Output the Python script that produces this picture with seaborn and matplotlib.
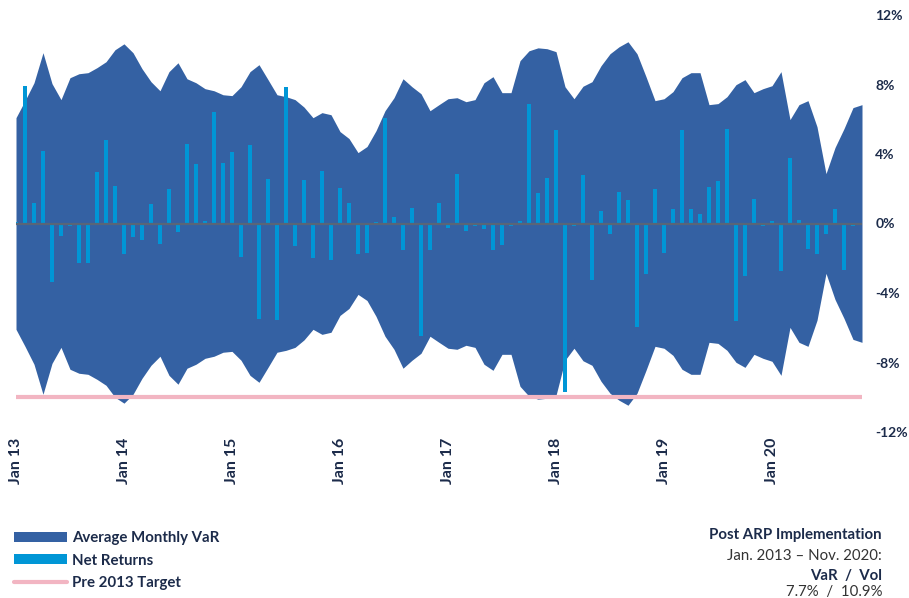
import numpy as np
import pandas as pd
import seaborn as sns
import matplotlib
matplotlib.use("Agg")
import matplotlib.pyplot as plt
from matplotlib.patches import Patch
from matplotlib.lines import Line2D

# ---------------- data ----------------
months = list(range(95))  # Jan 2013 .. Nov 2020
avg_var = [6.09, 7.07, 8.1, 9.83, 8.05, 7.13, 8.39, 8.62, 8.68, 8.97,
           9.31, 10.0, 10.34, 9.83, 8.91, 8.16, 7.64, 8.74, 9.25, 8.33,
           8.1, 7.76, 7.64, 7.41, 7.36, 7.87, 8.74, 9.14, 8.28, 7.41,
           7.3, 7.13, 6.7, 6.09, 6.38, 6.26, 5.29, 4.89, 4.08, 4.43,
           5.34, 6.49, 7.24, 8.33, 7.87, 7.47, 6.49, 6.84, 7.18, 7.24,
           7.01, 7.13, 8.1, 8.45, 7.53, 7.53, 9.37, 9.94, 10.11, 10.06,
           9.89, 7.87, 7.18, 7.9, 8.16, 9.08, 9.77, 10.17, 10.46, 9.77,
           8.45, 7.07, 7.18, 7.59, 8.39, 8.68, 8.68, 6.84, 6.9, 7.3,
           7.99, 8.28, 7.53, 7.76, 7.93, 8.74, 5.98, 6.84, 7.07, 5.57,
           2.87, 4.37, 5.46, 6.67, 6.84]
net_returns = [0.1, 7.9, 1.2, 4.2, -3.36, -0.72, -0.14, -2.29, -2.3, 2.96,
               4.78, 2.15, -1.77, -0.76, -0.97, 1.1, -1.16, 2.0, -0.49, 4.55,
               3.44, 0.14, 6.41, 3.5, 4.13, -1.9, 4.51, -5.5, 2.54, -5.55,
               7.86, -1.29, 2.5, -1.96, 3.02, -2.08, 2.06, 1.18, -1.77, -1.68,
               0.1, 6.05, 0.37, -1.5, 0.87, -6.48, -1.5, 1.18, -0.24, 2.83,
               -0.43, -0.14, -0.3, -1.52, -1.22, -0.14, 0.14, 6.85, 1.75, 2.6,
               5.36, -9.67, -0.14, 2.77, -3.25, 0.72, -0.62, 1.81, 1.35, -5.95,
               -2.88, 1.97, -1.68, 0.82, 5.36, 0.82, 0.53, 2.12, 2.44, 5.45,
               -5.64, -3.04, 1.39, -0.16, 0.14, -2.73, 3.78, 0.18, -1.45, -1.73,
               -0.62, 0.82, -2.67, -0.14, -0.1]
pre2013_target = -10.0
x_tick_months = [0, 12, 24, 36, 48, 60, 72, 84]
x_tick_labels = ["Jan 13", "Jan 14", "Jan 15", "Jan 16", "Jan 17", "Jan 18", "Jan 19", "Jan 20"]
y_ticks = [12, 8, 4, 0, -4, -8, -12]
y_tick_labels = ["12%", "8%", "4%", "0%", "-4%", "-8%", "-12%"]
legend_labels = ["Average Monthly VaR", "Net Returns", "Pre 2013 Target"]
summary_lines = ["Post ARP Implementation", "Jan. 2013 \u2013 Nov. 2020:", "VaR  /  Vol", "7.7%  /  10.9%"]

# ---------------- style ----------------
sns.set_theme(style="white")
plt.rcParams['font.family'] = ['Lato', 'DejaVu Sans']

AREA = "#3461a3"
BAR = "#0096d6"
PINK = "#f2b5c2"
ZERO = "#596577"
TXT = "#1c2b4a"

df = pd.DataFrame({"month": months, "var": avg_var, "ret": net_returns})

fig = plt.figure(figsize=(9.09, 5.98), dpi=100)
ax = fig.add_axes([16/909, 1 - 432/598, (862 - 16)/909, (432 - 15)/598])

ax.fill_between(df["month"], [-v for v in df["var"]], df["var"], color=AREA, linewidth=0, zorder=1)
sns.barplot(data=df, x="month", y="ret", native_scale=True, width=0.45,
            color=BAR, saturation=1, errorbar=None, ax=ax, zorder=2, linewidth=0)
ax.axhline(0, color=ZERO, lw=1.6, zorder=3)
ax.axhline(pre2013_target, color=PINK, lw=3, zorder=3)

ax.set_xlim(0, 94)
ax.set_ylim(-12, 12)
ax.set_xlabel("")
ax.set_ylabel("")
for s in ax.spines.values():
    s.set_visible(False)

ax.set_xticks(x_tick_months)
ax.set_xticklabels(x_tick_labels, rotation=90, fontweight="bold", fontsize=11.5, color=TXT)
ax.yaxis.tick_right()
ax.set_yticks(y_ticks)
ax.set_yticklabels(y_tick_labels, fontweight="bold", fontsize=10, color=TXT)
ax.tick_params(axis="x", length=0, pad=4)
ax.tick_params(axis="y", length=0, pad=9.5)
ax.grid(False)

handles = [Patch(facecolor=AREA, edgecolor="none"),
           Patch(facecolor=BAR, edgecolor="none"),
           Line2D([0], [0], color=PINK, lw=3)]
fig.legend(handles, legend_labels, loc="upper left",
           bbox_to_anchor=(14/909, 1 - 531/598), frameon=False,
           prop={"weight": "bold", "size": 10.8}, labelcolor=TXT,
           handlelength=3.5, handleheight=0.65, handletextpad=0.35,
           labelspacing=0.58, borderpad=0, borderaxespad=0)

ys = [535, 556, 576, 592]
weights = ["bold", "normal", "bold", "normal"]
for txt, y, w in zip(summary_lines, ys, weights):
    fig.text(882/909, 1 - y/598, txt, ha="right", va="center",
             fontsize=10.8, fontweight=w, color=TXT if w == "bold" else "#333333")

fig.savefig("out.png", dpi=100)
